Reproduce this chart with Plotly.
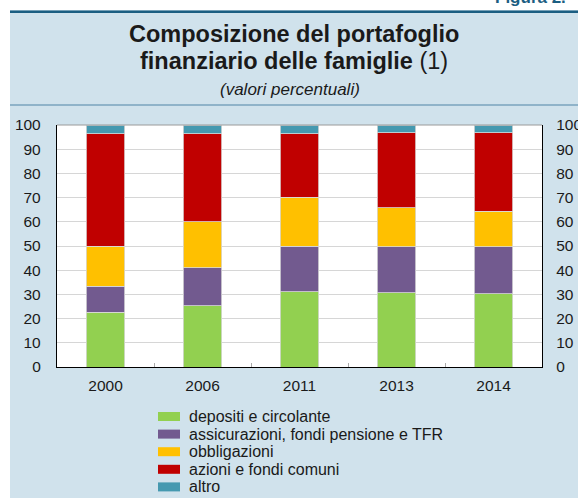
import plotly.graph_objects as go

# ---- data ----
years = ["2000", "2006", "2011", "2013", "2014"]
series_names = [
    "depositi e circolante",
    "assicurazioni, fondi pensione e TFR",
    "obbligazioni",
    "azioni e fondi comuni",
    "altro",
]
depositi = [22.6, 25.3, 31.0, 30.7, 30.2]
assicurazioni = [10.7, 15.7, 19.0, 19.0, 19.4]
obbligazioni = [16.6, 19.0, 20.2, 16.1, 14.7]
azioni = [46.5, 36.4, 26.2, 30.9, 32.5]
altro = [3.6, 3.6, 3.6, 3.3, 3.2]
y_ticks = list(range(0, 101, 10))

colors = ["#92d050", "#725a8f", "#ffc000", "#c00000", "#4599b0"]
values = [depositi, assicurazioni, obbligazioni, azioni, altro]

W, H = 578, 498
L, R, T, B = 57, 542, 125, 367
FONT = "Liberation Sans, Arial, Helvetica, sans-serif"
TXT = "#1a1a1a"


def px(x):
    return (x - L) / (R - L)


def py(y):
    return (B - y) / (B - T)


fig = go.Figure()
for name, vals, col in zip(series_names, values, colors):
    fig.add_trace(go.Bar(
        x=years, y=vals, name=name, showlegend=False,
        marker=dict(color=col, line=dict(color="#d8d8d8", width=0.8)),
        hoverinfo="x+y+name",
    ))
# invisible trace so the mirrored right-hand axis is drawn
fig.add_trace(go.Scatter(x=years, y=depositi, yaxis="y2", mode="none",
                         hoverinfo="skip", showlegend=False))

shapes = [
    # white strips outside panel
    dict(type="rect", xref="paper", yref="paper", x0=px(0), x1=px(10), y0=py(W), y1=py(0),
         fillcolor="white", line=dict(width=0), layer="below"),
    dict(type="rect", xref="paper", yref="paper", x0=px(0), x1=px(W), y0=py(10), y1=py(0),
         fillcolor="white", line=dict(width=0), layer="below"),
    # header lines
    dict(type="line", xref="paper", yref="paper", x0=px(10), x1=px(W), y0=py(11.8), y1=py(11.8),
         line=dict(color="#1b5e82", width=2.6)),
    dict(type="line", xref="paper", yref="paper", x0=px(10), x1=px(W), y0=py(105), y1=py(105),
         line=dict(color="#4f84a6", width=1.2)),
    # top border of plot
    dict(type="line", xref="paper", yref="paper", x0=0, x1=1, y0=1, y1=1,
         line=dict(color="#9a9a9a", width=1)),
]

annotations = [
    dict(text="<b>Composizione del portafoglio</b>", x=px(294), y=py(34), xref="paper", yref="paper",
         xanchor="center", yanchor="middle", showarrow=False, font=dict(size=23.5, color=TXT, family=FONT)),
    dict(text="<b>finanziario delle famiglie</b> (1)", x=px(294), y=py(61), xref="paper", yref="paper",
         xanchor="center", yanchor="middle", showarrow=False, font=dict(size=23.5, color=TXT, family=FONT)),
    dict(text="<i>(valori percentuali)</i>", x=px(290), y=py(89), xref="paper", yref="paper",
         xanchor="center", yanchor="middle", showarrow=False, font=dict(size=17, color=TXT, family=FONT)),
    dict(text="<b>Figura 2.</b>", x=px(493), y=py(9), xref="paper", yref="paper",
         xanchor="left", yanchor="bottom", showarrow=False, font=dict(size=17, color="#1b5e82", family=FONT)),
]

# manual legend
leg_top = 416.5
leg_step = 17.6
for i, (name, col) in enumerate(zip(series_names, colors)):
    cy = leg_top + i * leg_step
    shapes.append(dict(type="rect", xref="paper", yref="paper", x0=px(158), x1=px(180),
                       y0=py(cy + 4.5), y1=py(cy - 4.5), fillcolor=col, line=dict(width=0)))
    annotations.append(dict(text=name, x=px(187), y=py(cy), xref="paper", yref="paper",
                            xanchor="left", yanchor="middle", showarrow=False,
                            font=dict(size=16, color=TXT, family=FONT)))

fig.update_layout(
    width=W, height=H,
    margin=dict(l=L, r=W - R, t=T, b=H - B, pad=0, autoexpand=False),
    paper_bgcolor="#d0e2ec",
    plot_bgcolor="white",
    barmode="stack",
    bargap=0.607,
    showlegend=False,
    font=dict(family=FONT, color=TXT, size=15.5),
    shapes=shapes,
    annotations=annotations,
    xaxis=dict(
        type="category", showgrid=False, showline=True, linecolor="black", linewidth=1.3,
        ticks="inside", tickson="boundaries", ticklen=4, tickcolor="#aaaaaa", tickwidth=1,
        tickfont=dict(size=15.5, color=TXT), ticklabelstandoff=4, automargin=False,
    ),
    yaxis=dict(
        range=[0, 100], tickvals=y_ticks, showgrid=True, gridcolor="#d6d6d6", gridwidth=1,
        showline=True, linecolor="black", linewidth=1.3, ticks="", zeroline=False,
        tickfont=dict(size=15.5, color=TXT), ticklabelstandoff=12, automargin=False,
    ),
    yaxis2=dict(
        range=[0, 100], tickvals=y_ticks, overlaying="y", side="right", showgrid=False,
        showline=True, linecolor="black", linewidth=1.3, ticks="", zeroline=False,
        tickfont=dict(size=15.5, color=TXT), ticklabelstandoff=10, automargin=False,
    ),
)

fig.write_html("out.html", config={"displayModeBar": False},
               post_script="document.body.style.margin='0px';")
